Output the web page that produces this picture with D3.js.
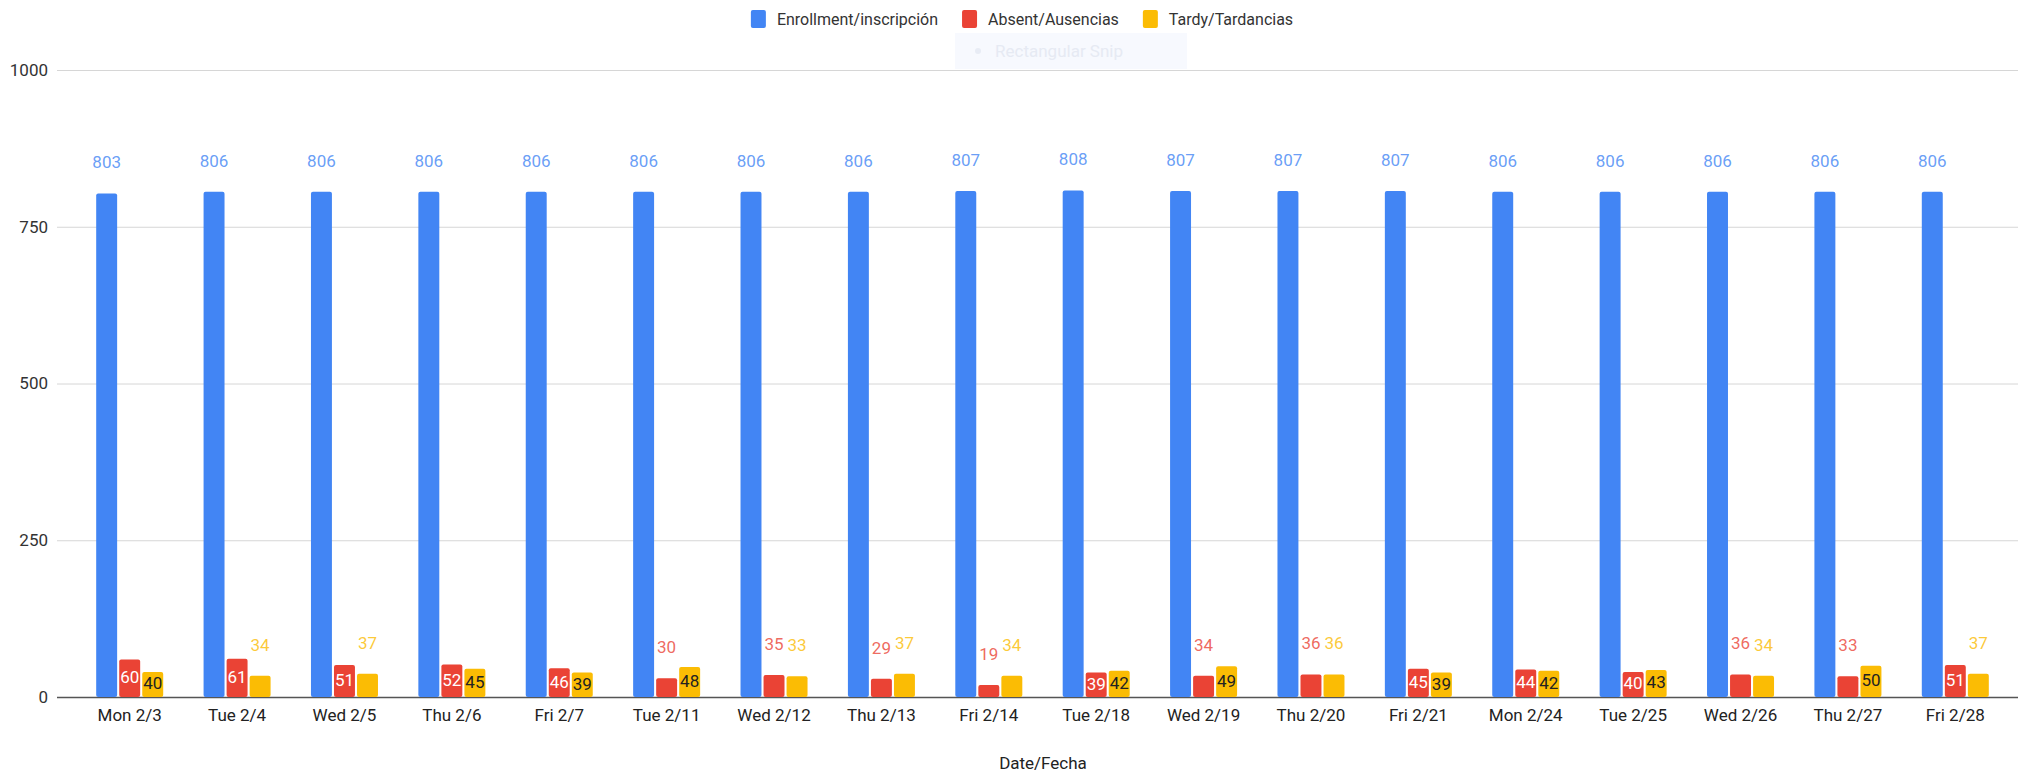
<!DOCTYPE html>
<html>
<head>
<meta charset="utf-8">
<script src="https://cdn.jsdelivr.net/npm/d3@7"></script>
<style>
  body { margin: 0; background: #fff; }
  text { font-family: Roboto, "Noto Sans", sans-serif; }
</style>
</head>
<body>
<div id="chart"></div>
<script>
// dates on the x axis
let dates = ["Mon 2/3", "Tue 2/4", "Wed 2/5", "Thu 2/6", "Fri 2/7", "Tue 2/11", "Wed 2/12",
    "Thu 2/13", "Fri 2/14", "Tue 2/18", "Wed 2/19", "Thu 2/20", "Fri 2/21", "Mon 2/24",
    "Tue 2/25", "Wed 2/26", "Thu 2/27", "Fri 2/28"];

// series values
let enrollment = [803, 806, 806, 806, 806, 806, 806, 806, 807, 808, 807, 807, 807, 806, 806, 806, 806, 806];
let absent = [60, 61, 51, 52, 46, 30, 35, 29, 19, 39, 34, 36, 45, 44, 40, 36, 33, 51];
let tardy = [40, 34, 37, 45, 39, 48, 33, 37, 34, 42, 49, 36, 39, 42, 43, 34, 50, 37];

let seriesNames = ["Enrollment/inscripción", "Absent/Ausencias", "Tardy/Tardancias"];
let yTicks = [0, 250, 500, 750, 1000];

let width = 2018,
    height = 773;

let colors = ["#4285f4", "#ea4335", "#fbbc04"];
let insideText = ["#ffffff", "#ffffff", "#222222"];

let svg = d3.select("#chart")
    .append("svg")
    .attr("width", width)
    .attr("height", height);

// scales
let x = d3.scaleBand()
    .domain(dates)
    .range([76, 2009]);

let inner = d3.scaleBand()
    .domain([0, 1, 2])
    .range([x.bandwidth() * 0.188, x.bandwidth() * 0.812])
    .paddingInner(0.09);

let y = d3.scaleLinear()
    .domain([0, 1000])
    .range([697, 70]);

// gridlines + y labels
let grid = svg.append("g");
grid.selectAll("line")
    .data(yTicks)
    .enter()
    .append("line")
    .attr("x1", 57)
    .attr("x2", width)
    .attr("y1", d => y(d) + 0.5)
    .attr("y2", d => y(d) + 0.5)
    .attr("stroke", d => d === 0 ? "#555" : "#d6d6d6")
    .attr("stroke-width", d => d === 0 ? 1.5 : 1);

grid.selectAll("text")
    .data(yTicks)
    .enter()
    .append("text")
    .attr("x", 48)
    .attr("y", d => y(d))
    .attr("dy", "0.35em")
    .style("text-anchor", "end")
    .style("font-size", "17px")
    .attr("fill", "#333")
    .text(d => d);

// bars
let rows = dates.map((d, i) => ({date: d, values: [enrollment[i], absent[i], tardy[i]]}));

let groups = svg.selectAll(".grp")
    .data(rows)
    .enter()
    .append("g")
    .attr("class", "grp")
    .attr("transform", d => `translate(${x(d.date)},0)`);

let cells = groups.selectAll("g")
    .data(d => d.values.map((v, k) => ({v: v, k: k})))
    .enter()
    .append("g");

cells.append("rect")
    .attr("x", d => inner(d.k))
    .attr("y", d => y(d.v))
    .attr("width", inner.bandwidth())
    .attr("height", d => y(0) - y(d.v))
    .attr("rx", 2)
    .attr("fill", d => colors[d.k]);

// value labels: enrollment always above, small bars inside when tall enough
function inside(d) {
    return d.k > 0 && (y(0) - y(d.v)) >= 24;
}

cells.append("text")
    .attr("x", d => inner(d.k) + inner.bandwidth() / 2)
    .attr("y", d => inside(d) ? (y(d.v) + y(0)) / 2 - 1 : y(d.v) - 31)
    .attr("dy", "0.35em")
    .style("text-anchor", "middle")
    .style("font-size", "17px")
    .attr("fill", d => inside(d) ? insideText[d.k] : colors[d.k])
    .attr("fill-opacity", d => inside(d) ? 1 : 0.8)
    .text(d => d.v);

// x labels
svg.append("g")
    .selectAll("text")
    .data(dates)
    .enter()
    .append("text")
    .attr("x", d => x(d) + x.bandwidth() / 2)
    .attr("y", 715)
    .attr("dy", "0.35em")
    .style("text-anchor", "middle")
    .style("font-size", "17px")
    .attr("fill", "#222")
    .text(d => d);

// axis title
svg.append("text")
    .attr("x", 1043)
    .attr("y", 763)
    .attr("dy", "0.35em")
    .style("text-anchor", "middle")
    .style("font-size", "17px")
    .attr("fill", "#222")
    .text("Date/Fecha");

// faint snip tooltip left over in the screenshot
let snip = svg.append("g");
snip.append("rect")
    .attr("x", 955).attr("y", 33)
    .attr("width", 232).attr("height", 36)
    .attr("fill", "#f7f9fe");
snip.append("circle")
    .attr("cx", 978).attr("cy", 51).attr("r", 3)
    .attr("fill", "#e8ecf5");
snip.append("text")
    .attr("x", 995).attr("y", 51)
    .attr("dy", "0.35em")
    .style("font-size", "17px")
    .attr("fill", "#e6eaf3")
    .text("Rectangular Snip");

// legend, laid out from measured text widths and centred
let legend = svg.append("g");
let items = legend.selectAll("g")
    .data(seriesNames)
    .enter()
    .append("g");
items.append("rect")
    .attr("y", 10)
    .attr("width", 15)
    .attr("height", 18)
    .attr("rx", 2)
    .attr("fill", (d, i) => colors[i]);
items.append("text")
    .attr("x", 26)
    .attr("y", 19)
    .attr("dy", "0.35em")
    .style("font-size", "16px")
    .attr("fill", "#333")
    .text(d => d);

let offsets = [];
let pos = 0;
items.each(function() {
    offsets.push(pos);
    pos += 26 + d3.select(this).select("text").node().getComputedTextLength() + 24;
});
let total = pos - 24;
let start = 1022 - total / 2;
items.attr("transform", (d, i) => `translate(${start + offsets[i]},0)`);
</script>
</body>
</html>
